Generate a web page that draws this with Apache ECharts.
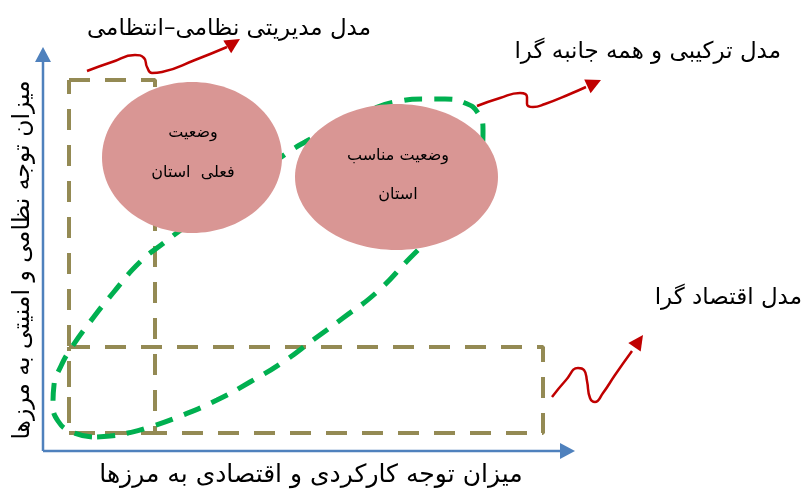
<!DOCTYPE html>
<html><head><meta charset="utf-8">
<script src="https://cdn.jsdelivr.net/npm/echarts@6/dist/echarts.min.js"></script>
<style>html,body{margin:0;padding:0;background:#fff}#c{width:802px;height:492px}</style>
</head><body><div id="c"></div>
<script>
// Diagram geometry (in diagram units, mapped 1:1 through hidden value axes)
const axisXLine = [[43,451],[566,451]];
const axisYLine = [[43,451],[43,58]];
const axisHeads = [[575,451,566,451],[43,47,43,58]];

const rectMilitary = [[69,80],[155,80],[155,433],[69,433],[69,80]];
const rectEconomic = [[69,347],[543,347],[543,433],[69,433],[69,347]];

const greenLoop = [[92,437],[72,432],[58,421],[53,403],[54,385],[61,366],[70,350],[90,322],[113,293],[140,262],[165,242],[178,232],[230,193],[287,153],[305,142],[340,123],[370,110],[395,102],[425,99],[445,99],[465,103],[478,113],[483,130],[482,150],[470,195],[440,228],[410,258],[377,292],[343,318],[313,340],[283,362],[250,382],[217,400],[183,415],[147,428],[128,433],[110,436],[92,437]];

const ellipses = [[192,157.5,90,75.5],[396.5,177,101.5,73]];

const arrow1 = [[87,71],[112,62],[135,55],[144,58],[147,67],[152,73],[162,72],[195,60],[227,47]];
const arrow2 = [[477,106],[500,98],[520,93],[527,97],[527,104],[533,107],[545,104],[570,94],[586,87]];
const arrow3 = [[552,397],[566,380],[578,368],[584,370],[587,381],[590,398],[595,402],[603,393],[615,375],[632,351]];
const arrowHeads = [[240,39,227,47],[601,80,586,87],[643,335,632,351]];

const titleTexts = [
  ['مدل مدیریتی نظامی–انتظامی', 371, 29],
  ['مدل ترکیبی و همه جانبه گرا', 781, 52],
  ['مدل اقتصاد گرا', 802, 298]
];
const ellipseTexts = [
  ['وضعیت', 193, 133], ['فعلی  استان', 193, 173],
  ['وضعیت مناسب', 398, 156], ['استان', 398, 195]
];
const xAxisTitle = ['میزان توجه کارکردی و اقتصادی به مرزها', 311, 475];
const yAxisTitle = ['میزان توجه نظامی و امنیتی به مرزها', 23, 260];

const FONT = '"DejaVu Sans", sans-serif';
const chart = echarts.init(document.getElementById('c'), null, {renderer:'canvas'});

function lineSeries(data, color, width, type, smooth, z){
  return {type:'line', data:data, symbol:'none', smooth:smooth, silent:true, clip:false, z:z,
    lineStyle:{color:color, width:width, type:type}, animation:false};
}
function textSeries(items, size, rotate, align){
  return {type:'custom', data:items, silent:true, animation:false, clip:false, z:10,
    renderItem:function(params, api){
      const it = items[params.dataIndex];
      const p = api.coord([it[1], it[2]]);
      return {type:'text', x:p[0], y:p[1], rotation: rotate,
        style:{text:it[0], font: size+'px '+FONT, fill:'#000', align:align, verticalAlign:'middle'}};
    }};
}

const option = {
  animation:false,
  grid:{left:0,right:0,top:0,bottom:0},
  xAxis:{type:'value', min:0, max:802, show:false},
  yAxis:{type:'value', min:0, max:492, inverse:true, show:false},
  series:[
    lineSeries(axisXLine, '#4F81BD', 2.5, 'solid', false, 1),
    lineSeries(axisYLine, '#4F81BD', 2.5, 'solid', false, 1),
    lineSeries(rectMilitary, '#948A54', 4, [21,15], false, 1),
    lineSeries(rectEconomic, '#948A54', 4, [21,15], false, 1),
    lineSeries(greenLoop, '#00B050', 5, [18,12], 0.5, 2),
    {type:'custom', data:ellipses, silent:true, animation:false, z:5,
      renderItem:function(params, api){
        const c = api.coord([api.value(0), api.value(1)]);
        const s = api.size([api.value(2), api.value(3)]);
        return {type:'ellipse', shape:{cx:c[0], cy:c[1], rx:Math.abs(s[0]), ry:Math.abs(s[1])},
          style:{fill:'#D99694'}};
      }},
    lineSeries(arrow1, '#C00000', 2.5, 'solid', 0.5, 6),
    lineSeries(arrow2, '#C00000', 2.5, 'solid', 0.5, 6),
    lineSeries(arrow3, '#C00000', 2.5, 'solid', 0.5, 6),
    {type:'custom', data:arrowHeads.concat(axisHeads), silent:true, animation:false, z:6,
      renderItem:function(params, api){
        const tip = api.coord([api.value(0), api.value(1)]);
        const from = api.coord([api.value(2), api.value(3)]);
        const isAxis = params.dataIndex >= arrowHeads.length;
        const L = 15, W = isAxis ? 16 : 15;
        const dx = tip[0]-from[0], dy = tip[1]-from[1];
        const d = Math.sqrt(dx*dx+dy*dy); const ux = dx/d, uy = dy/d;
        const bx = tip[0]-ux*L, by = tip[1]-uy*L;
        return {type:'polygon', shape:{points:[[tip[0],tip[1]],[bx-uy*W/2, by+ux*W/2],[bx+uy*W/2, by-ux*W/2]]},
          style:{fill: isAxis ? '#4F81BD' : '#C00000'}};
      }},
    textSeries(titleTexts, 23, 0, 'right'),
    textSeries(ellipseTexts, 16, 0, 'center'),
    textSeries([xAxisTitle], 25, 0, 'center'),
    textSeries([yAxisTitle], 23.5, Math.PI/2, 'center')
  ]
};
chart.setOption(option);
</script>
</body></html>
